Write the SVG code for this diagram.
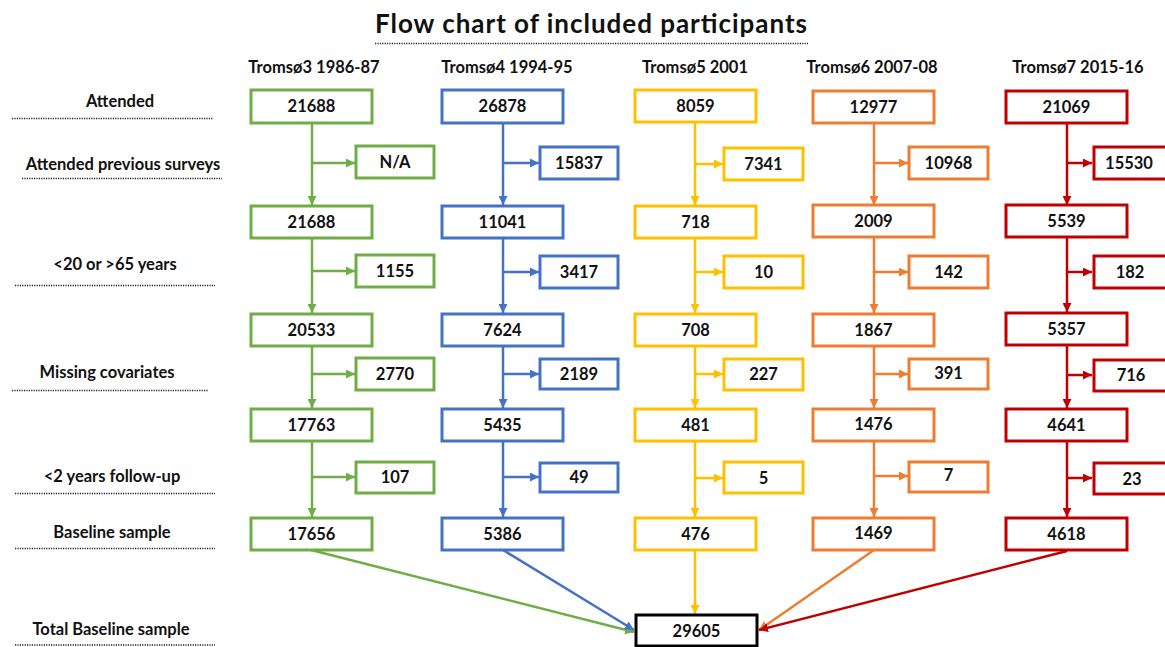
<svg xmlns="http://www.w3.org/2000/svg" width="1165" height="647" viewBox="0 0 1165 647">
<style>
text{font-family:Lato,"Liberation Sans",sans-serif;font-weight:bold;fill:#111}
.title{font-size:26px}
.hdr{font-size:16.5px;text-anchor:middle}
.lbl{font-size:16.5px;text-anchor:middle}
.num{font-size:16.5px;text-anchor:middle}
.dot{stroke:#222;stroke-width:1.4;stroke-dasharray:1.2 1.2;fill:none}
rect{fill:#fff;stroke-width:3}
.g{stroke:#70AD47}.b{stroke:#4472C4}.y{stroke:#FFC000}.o{stroke:#ED7D31}.r{stroke:#C00000}.k{stroke:#000}
#connectors line{stroke-width:2.5;fill:none}
</style>
<defs>
<marker id="ag" markerUnits="userSpaceOnUse" markerWidth="9" markerHeight="9" refX="9" refY="4.5" orient="auto"><path d="M0,0 L9,4.5 L0,9 z" fill="#70AD47"/></marker>
<marker id="ab" markerUnits="userSpaceOnUse" markerWidth="9" markerHeight="9" refX="9" refY="4.5" orient="auto"><path d="M0,0 L9,4.5 L0,9 z" fill="#4472C4"/></marker>
<marker id="ay" markerUnits="userSpaceOnUse" markerWidth="9" markerHeight="9" refX="9" refY="4.5" orient="auto"><path d="M0,0 L9,4.5 L0,9 z" fill="#FFC000"/></marker>
<marker id="ao" markerUnits="userSpaceOnUse" markerWidth="9" markerHeight="9" refX="9" refY="4.5" orient="auto"><path d="M0,0 L9,4.5 L0,9 z" fill="#ED7D31"/></marker>
<marker id="ar" markerUnits="userSpaceOnUse" markerWidth="9" markerHeight="9" refX="9" refY="4.5" orient="auto"><path d="M0,0 L9,4.5 L0,9 z" fill="#C00000"/></marker>
</defs>
<rect x="0" y="0" width="1165" height="647" style="fill:#fff;stroke:none"/>

<g id="title">
<text class="title" x="591" y="33" text-anchor="middle" textLength="432">Flow chart of included participants</text>
<line class="dot" x1="375" y1="43.5" x2="808" y2="43.5"/>
</g>

<g id="headers">
<text class="hdr" x="314" y="73">Tromsø3 1986-87</text>
<text class="hdr" x="507" y="73">Tromsø4 1994-95</text>
<text class="hdr" x="695" y="73">Tromsø5 2001</text>
<text class="hdr" x="872" y="73">Tromsø6 2007-08</text>
<text class="hdr" x="1078" y="73">Tromsø7 2015-16</text>
</g>

<g id="row-labels">
<text class="lbl" x="120" y="107">Attended</text>
<line class="dot" x1="12" y1="118.5" x2="213" y2="118.5"/>
<text class="lbl" x="123" y="170">Attended previous surveys</text>
<line class="dot" x1="22" y1="178.5" x2="222" y2="178.5"/>
<text class="lbl" x="115" y="270">&lt;20 or &gt;65 years</text>
<line class="dot" x1="15" y1="285.5" x2="215" y2="285.5"/>
<text class="lbl" x="107" y="378">Missing covariates</text>
<line class="dot" x1="12" y1="390.5" x2="208" y2="390.5"/>
<text class="lbl" x="112" y="482">&lt;2 years follow-up</text>
<line class="dot" x1="15" y1="493.5" x2="215" y2="493.5"/>
<text class="lbl" x="112" y="538">Baseline sample</text>
<line class="dot" x1="15" y1="548.5" x2="215" y2="548.5"/>
<text class="lbl" x="111" y="635">Total Baseline sample</text>
<line class="dot" x1="15" y1="645" x2="215" y2="645"/>
</g>

<g id="connectors">
<g stroke="#70AD47">
<line x1="312" y1="123" x2="312" y2="205" marker-end="url(#ag)"/>
<line x1="312" y1="163" x2="355" y2="163" marker-end="url(#ag)"/>
<line x1="312" y1="238" x2="312" y2="313" marker-end="url(#ag)"/>
<line x1="312" y1="271" x2="355" y2="271" marker-end="url(#ag)"/>
<line x1="312" y1="346" x2="312" y2="408" marker-end="url(#ag)"/>
<line x1="312" y1="374" x2="355" y2="374" marker-end="url(#ag)"/>
<line x1="312" y1="441" x2="312" y2="517" marker-end="url(#ag)"/>
<line x1="312" y1="477" x2="355" y2="477" marker-end="url(#ag)"/>
<line x1="311" y1="550" x2="634" y2="632" marker-end="url(#ag)"/>
</g>
<g stroke="#4472C4">
<line x1="503" y1="123" x2="503" y2="205" marker-end="url(#ab)"/>
<line x1="503" y1="163" x2="539" y2="163" marker-end="url(#ab)"/>
<line x1="503" y1="238" x2="503" y2="313" marker-end="url(#ab)"/>
<line x1="503" y1="272" x2="539" y2="272" marker-end="url(#ab)"/>
<line x1="503" y1="346" x2="503" y2="408" marker-end="url(#ab)"/>
<line x1="503" y1="374" x2="539" y2="374" marker-end="url(#ab)"/>
<line x1="503" y1="441" x2="503" y2="517" marker-end="url(#ab)"/>
<line x1="503" y1="477" x2="539" y2="477" marker-end="url(#ab)"/>
<line x1="503" y1="550" x2="634" y2="630" marker-end="url(#ab)"/>
</g>
<g stroke="#FFC000">
<line x1="695" y1="123" x2="695" y2="205" marker-end="url(#ay)"/>
<line x1="695" y1="164" x2="723" y2="164" marker-end="url(#ay)"/>
<line x1="695" y1="238" x2="695" y2="313" marker-end="url(#ay)"/>
<line x1="695" y1="272" x2="723" y2="272" marker-end="url(#ay)"/>
<line x1="695" y1="346" x2="695" y2="408" marker-end="url(#ay)"/>
<line x1="695" y1="374" x2="723" y2="374" marker-end="url(#ay)"/>
<line x1="695" y1="441" x2="695" y2="517" marker-end="url(#ay)"/>
<line x1="695" y1="478" x2="723" y2="478" marker-end="url(#ay)"/>
<line x1="695" y1="550" x2="695" y2="614" marker-end="url(#ay)"/>
</g>
<g stroke="#ED7D31">
<line x1="874" y1="123" x2="874" y2="205" marker-end="url(#ao)"/>
<line x1="874" y1="163" x2="908" y2="163" marker-end="url(#ao)"/>
<line x1="874" y1="238" x2="874" y2="313" marker-end="url(#ao)"/>
<line x1="874" y1="272" x2="908" y2="272" marker-end="url(#ao)"/>
<line x1="874" y1="346" x2="874" y2="408" marker-end="url(#ao)"/>
<line x1="874" y1="374" x2="908" y2="374" marker-end="url(#ao)"/>
<line x1="874" y1="441" x2="874" y2="517" marker-end="url(#ao)"/>
<line x1="874" y1="476" x2="908" y2="476" marker-end="url(#ao)"/>
<line x1="874" y1="550" x2="759" y2="630" marker-end="url(#ao)"/>
</g>
<g stroke="#C00000">
<line x1="1067" y1="123" x2="1067" y2="205" marker-end="url(#ar)"/>
<line x1="1067" y1="163" x2="1092" y2="163" marker-end="url(#ar)"/>
<line x1="1067" y1="237" x2="1067" y2="312" marker-end="url(#ar)"/>
<line x1="1067" y1="272" x2="1092" y2="272" marker-end="url(#ar)"/>
<line x1="1067" y1="345" x2="1067" y2="408" marker-end="url(#ar)"/>
<line x1="1067" y1="375" x2="1092" y2="375" marker-end="url(#ar)"/>
<line x1="1067" y1="442" x2="1067" y2="517" marker-end="url(#ar)"/>
<line x1="1067" y1="478" x2="1092" y2="478" marker-end="url(#ar)"/>
<line x1="1067" y1="551" x2="759" y2="630" marker-end="url(#ar)"/>
</g>
</g>

<g id="t3-attended"><rect class="g" x="251" y="90" width="121" height="33"/><text class="num" x="311.5" y="112">21688</text></g>
<g id="t3-previous"><rect class="g" x="356" y="146" width="78" height="32"/><text class="num" x="395" y="168">N/A</text></g>
<g id="t3-after-previous"><rect class="g" x="251" y="206" width="121" height="32"/><text class="num" x="311.5" y="228">21688</text></g>
<g id="t3-age"><rect class="g" x="356" y="255" width="78" height="32"/><text class="num" x="395" y="277">1155</text></g>
<g id="t3-after-age"><rect class="g" x="251" y="314" width="121" height="32"/><text class="num" x="311.5" y="336">20533</text></g>
<g id="t3-cov"><rect class="g" x="356" y="358" width="78" height="32"/><text class="num" x="395" y="380">2770</text></g>
<g id="t3-after-cov"><rect class="g" x="251" y="409" width="121" height="32"/><text class="num" x="311.5" y="431">17763</text></g>
<g id="t3-fu"><rect class="g" x="356" y="462" width="78" height="31"/><text class="num" x="395" y="483">107</text></g>
<g id="t3-baseline"><rect class="g" x="251" y="518" width="121" height="32"/><text class="num" x="311.5" y="540">17656</text></g>

<g id="t4-attended"><rect class="b" x="442" y="90" width="121" height="33"/><text class="num" x="502.5" y="112">26878</text></g>
<g id="t4-previous"><rect class="b" x="540" y="147" width="78" height="32"/><text class="num" x="579" y="169">15837</text></g>
<g id="t4-after-previous"><rect class="b" x="442" y="206" width="121" height="32"/><text class="num" x="502.5" y="228">11041</text></g>
<g id="t4-age"><rect class="b" x="540" y="256" width="78" height="32"/><text class="num" x="579" y="278">3417</text></g>
<g id="t4-after-age"><rect class="b" x="442" y="314" width="121" height="32"/><text class="num" x="502.5" y="336">7624</text></g>
<g id="t4-cov"><rect class="b" x="540" y="359" width="78" height="30"/><text class="num" x="579" y="380">2189</text></g>
<g id="t4-after-cov"><rect class="b" x="442" y="409" width="121" height="32"/><text class="num" x="502.5" y="431">5435</text></g>
<g id="t4-fu"><rect class="b" x="540" y="463" width="78" height="29"/><text class="num" x="579" y="483">49</text></g>
<g id="t4-baseline"><rect class="b" x="442" y="518" width="121" height="32"/><text class="num" x="502.5" y="540">5386</text></g>

<g id="t5-attended"><rect class="y" x="635" y="90" width="121" height="32"/><text class="num" x="695.5" y="112">8059</text></g>
<g id="t5-previous"><rect class="y" x="724" y="148" width="79" height="32"/><text class="num" x="763.5" y="170">7341</text></g>
<g id="t5-after-previous"><rect class="y" x="635" y="206" width="121" height="32"/><text class="num" x="695.5" y="228">718</text></g>
<g id="t5-age"><rect class="y" x="724" y="256" width="79" height="32"/><text class="num" x="763.5" y="278">10</text></g>
<g id="t5-after-age"><rect class="y" x="635" y="314" width="121" height="32"/><text class="num" x="695.5" y="336">708</text></g>
<g id="t5-cov"><rect class="y" x="724" y="359" width="79" height="31"/><text class="num" x="763.5" y="380">227</text></g>
<g id="t5-after-cov"><rect class="y" x="635" y="409" width="121" height="32"/><text class="num" x="695.5" y="431">481</text></g>
<g id="t5-fu"><rect class="y" x="724" y="462" width="79" height="31"/><text class="num" x="763.5" y="484">5</text></g>
<g id="t5-baseline"><rect class="y" x="635" y="518" width="121" height="32"/><text class="num" x="695.5" y="540">476</text></g>

<g id="t6-attended"><rect class="o" x="813" y="91" width="121" height="32"/><text class="num" x="873.5" y="113">12977</text></g>
<g id="t6-previous"><rect class="o" x="909" y="147" width="79" height="32"/><text class="num" x="948.5" y="169">10968</text></g>
<g id="t6-after-previous"><rect class="o" x="813" y="205" width="121" height="32"/><text class="num" x="873.5" y="227">2009</text></g>
<g id="t6-age"><rect class="o" x="909" y="256" width="79" height="32"/><text class="num" x="948.5" y="278">142</text></g>
<g id="t6-after-age"><rect class="o" x="813" y="314" width="121" height="32"/><text class="num" x="873.5" y="336">1867</text></g>
<g id="t6-cov"><rect class="o" x="909" y="359" width="79" height="30"/><text class="num" x="948.5" y="379">391</text></g>
<g id="t6-after-cov"><rect class="o" x="813" y="409" width="121" height="32"/><text class="num" x="873.5" y="430">1476</text></g>
<g id="t6-fu"><rect class="o" x="909" y="462" width="79" height="30"/><text class="num" x="948.5" y="481">7</text></g>
<g id="t6-baseline"><rect class="o" x="813" y="518" width="121" height="32"/><text class="num" x="873.5" y="539">1469</text></g>

<g id="t7-attended"><rect class="r" x="1006" y="91" width="121" height="32"/><text class="num" x="1066.5" y="113">21069</text></g>
<g id="t7-previous"><rect class="r" x="1094" y="147" width="80" height="32"/><text class="num" x="1129" y="169">15530</text></g>
<g id="t7-after-previous"><rect class="r" x="1006" y="205" width="121" height="32"/><text class="num" x="1066.5" y="227">5539</text></g>
<g id="t7-age"><rect class="r" x="1094" y="256" width="80" height="32"/><text class="num" x="1130" y="278">182</text></g>
<g id="t7-after-age"><rect class="r" x="1006" y="313" width="121" height="32"/><text class="num" x="1066.5" y="335">5357</text></g>
<g id="t7-cov"><rect class="r" x="1094" y="360" width="80" height="31"/><text class="num" x="1131" y="381">716</text></g>
<g id="t7-after-cov"><rect class="r" x="1006" y="409" width="121" height="32"/><text class="num" x="1066.5" y="431">4641</text></g>
<g id="t7-fu"><rect class="r" x="1094" y="463" width="80" height="31"/><text class="num" x="1132" y="485">23</text></g>
<g id="t7-baseline"><rect class="r" x="1006" y="518" width="121" height="32"/><text class="num" x="1066.5" y="540">4618</text></g>

<g id="total"><rect class="k" x="636" y="615" width="121" height="31"/><text class="num" x="696.5" y="637">29605</text></g>
</svg>
